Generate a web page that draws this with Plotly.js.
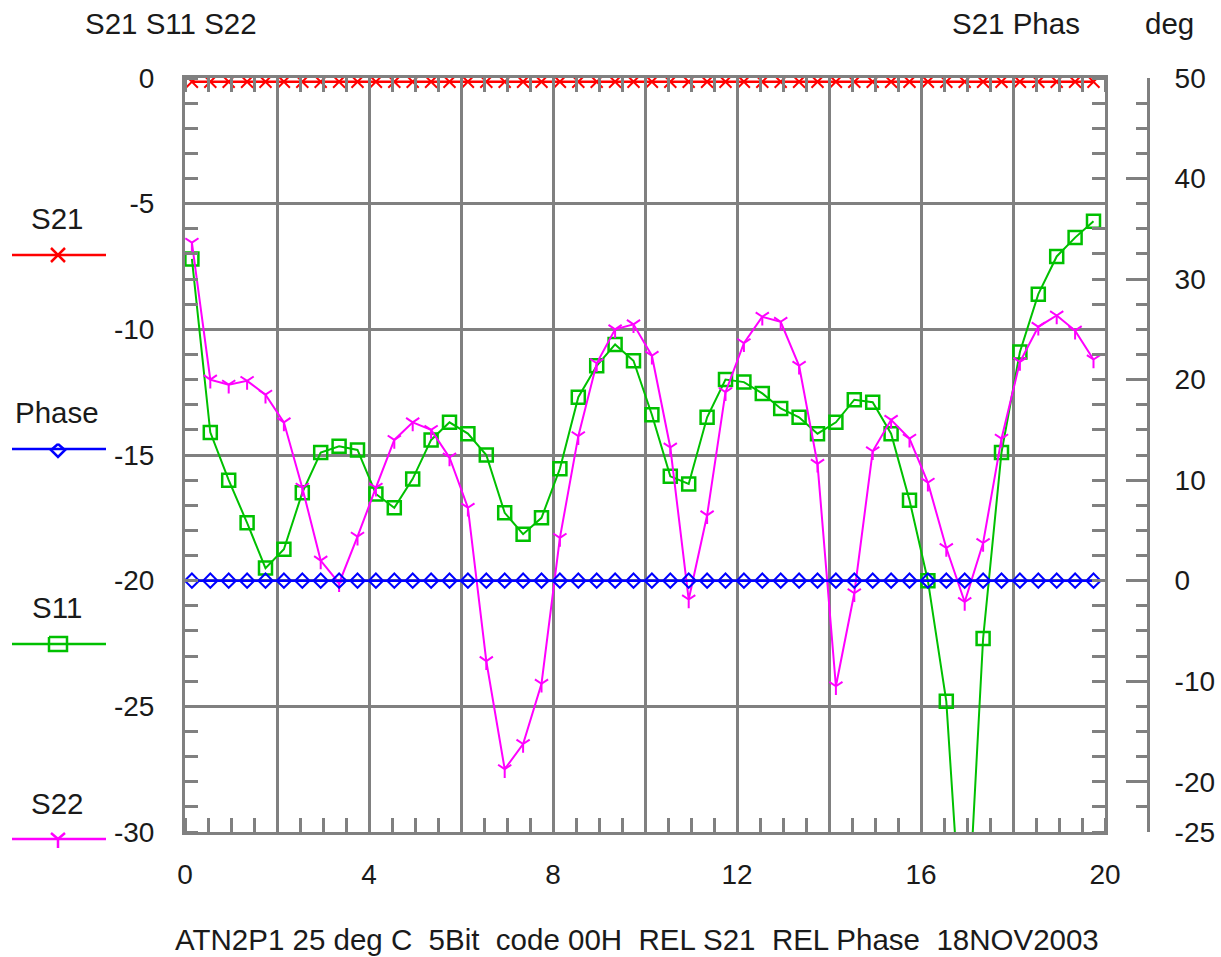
<!DOCTYPE html>
<html><head><meta charset="utf-8">
<script src="https://cdn.plot.ly/plotly-3.0.1.min.js"></script>
<style>html,body{margin:0;padding:0;background:#fff}</style>
</head><body><div id="chart" style="width:1221px;height:957px"></div>
<script>
// ---- data ----
const freqGHz = [0.15,0.55,0.95,1.35,1.75,2.15,2.55,2.95,3.35,3.75,
  4.15,4.55,4.95,5.35,5.75,6.15,6.55,6.95,7.35,7.75,
  8.15,8.55,8.95,9.35,9.75,10.15,10.55,10.95,11.35,11.75,
  12.15,12.55,12.95,13.35,13.75,14.15,14.55,14.95,15.35,15.75,
  16.15,16.55,16.95,17.35,17.75,18.15,18.55,18.95,19.35,19.75];
const s21dB = [-0.15,-0.15,-0.15,-0.15,-0.15,-0.15,-0.15,-0.15,-0.15,-0.15,
  -0.15,-0.15,-0.15,-0.15,-0.15,-0.15,-0.15,-0.15,-0.15,-0.15,
  -0.15,-0.15,-0.15,-0.15,-0.15,-0.15,-0.15,-0.15,-0.15,-0.15,
  -0.15,-0.15,-0.15,-0.15,-0.15,-0.15,-0.15,-0.15,-0.15,-0.15,
  -0.15,-0.15,-0.15,-0.15,-0.15,-0.15,-0.15,-0.15,-0.15,-0.15];
const phaseDeg = [0,0,0,0,0,0,0,0,0,0, 0,0,0,0,0,0,0,0,0,0,
  0,0,0,0,0,0,0,0,0,0, 0,0,0,0,0,0,0,0,0,0, 0,0,0,0,0,0,0,0,0,0];
const s11dB = [-7.2,-14.1,-16.0,-17.7,-19.5,-18.75,-16.5,-14.9,-14.65,-14.8,
  -16.55,-17.1,-15.95,-14.4,-13.7,-14.15,-15.0,-17.3,-18.15,-17.5,
  -15.55,-12.7,-11.45,-10.6,-11.25,-13.4,-15.85,-16.15,-13.5,-12.0,
  -12.1,-12.55,-13.15,-13.5,-14.15,-13.7,-12.8,-12.9,-14.15,-16.8,
  -20.0,-24.8,-36.0,-22.3,-14.9,-10.9,-8.6,-7.1,-6.35,-5.7];
const s22dB = [-6.55,-12.0,-12.2,-12.05,-12.6,-13.7,-16.3,-19.2,-20.1,-18.25,
  -16.3,-14.4,-13.7,-14.0,-15.1,-17.1,-23.2,-27.5,-26.5,-24.1,
  -18.3,-14.25,-11.35,-10.0,-9.8,-11.05,-14.7,-20.75,-17.4,-12.5,
  -10.55,-9.5,-9.7,-11.45,-15.35,-24.2,-20.5,-14.85,-13.6,-14.35,
  -16.1,-18.7,-20.85,-18.5,-14.35,-11.3,-9.9,-9.45,-10.05,-11.2];

const xTickVals = [0,2,4,6,8,10,12,14,16,18,20];
const xTickText = ['0','','4','','8','','12','','16','','20'];
const yTickVals = [-30,-25,-20,-15,-10,-5,0];
const yTickText = ['-30','-25','-20','-15','-10','-5','0'];
const y2TickVals = [-25,-20,-10,0,10,20,30,40,50];
const y2TickText = ['-25','-20','-10','0','10','20','30','40','50'];
const leftTitle = 'S21 S11 S22';
const rightTitle = 'S21 Phas';
const rightUnit = 'deg';
const bottomTitle = 'ATN2P1 25 deg C  5Bit  code 00H  REL S21  REL Phase  18NOV2003';
const seriesNames = ['S21','Phase','S11','S22'];

// ---- styling ----
const GRAY = '#808080';
const TXT = '#1a1a1a';
const FAM = 'Liberation Sans, Arial, sans-serif';
const FONT = {family: FAM, size: 29.5, color: TXT};
const TICKFONT = {family: FAM, size: 28, color: TXT};
const RED = '#ff0000', BLUE = '#0000ff', GREEN = '#00c000', MAG = '#ff00ff';

// page pixel frame of the paper area
const PL = 185, PR = 1148, PT = 78, PB = 832;
const px = x => (x - PL) / (PR - PL);
const py = y => (PB - y) / (PB - PT);

const traces = [
  {name: seriesNames[1], x: freqGHz, y: phaseDeg, yaxis: 'y2', mode: 'lines+markers',
   line: {color: BLUE, width: 2.5},
   marker: {symbol: 'diamond-open', size: 11, color: BLUE, line: {color: BLUE, width: 2}}},
  {name: seriesNames[0], x: freqGHz, y: s21dB, mode: 'lines+markers',
   line: {color: RED, width: 2.5},
   marker: {symbol: 'x-thin-open', size: 12, color: RED, line: {color: RED, width: 2}}},
  {name: seriesNames[2], x: freqGHz, y: s11dB, mode: 'lines+markers',
   line: {color: GREEN, width: 2},
   marker: {symbol: 'square-open', size: 13, color: GREEN, line: {color: GREEN, width: 2.5}}},
  {name: seriesNames[3], x: freqGHz, y: s22dB, mode: 'lines+markers',
   line: {color: MAG, width: 2},
   marker: {symbol: 'y-down-open', size: 11, color: MAG, line: {color: MAG, width: 2}}}
];

// legend drawn as shapes + labels at the left
const legendRows = [
  {name: seriesNames[0], color: RED, labelY: 218, lineY: 255, sym: 'x'},
  {name: seriesNames[1], color: BLUE, labelY: 412, lineY: 449, sym: 'diamond'},
  {name: seriesNames[2], color: GREEN, labelY: 607, lineY: 644, sym: 'square'},
  {name: seriesNames[3], color: MAG, labelY: 803, lineY: 839, sym: 'y'}
];
const shapes = [];
const annotations = [];
const path = pts => pts.map(p => p[0] + px(p[1]) + ',' + py(p[2])).join(' ');
legendRows.forEach(r => {
  shapes.push({type: 'line', xref: 'paper', yref: 'paper', x0: px(12), x1: px(106), y0: py(r.lineY), y1: py(r.lineY),
               line: {color: r.color, width: 2.5}});
  const cx = 58, cy = r.lineY;
  let d;
  if (r.sym === 'x') {
    d = path([['M', cx-7, cy-7], ['L', cx+7, cy+7], ['M', cx+7, cy-7], ['L', cx-7, cy+7]]);
  } else if (r.sym === 'diamond') {
    d = path([['M', cx, cy-5], ['L', cx+7, cy+1], ['L', cx, cy+8], ['L', cx-7, cy+1], ['L', cx, cy-5]]);
  } else if (r.sym === 'square') {
    d = path([['M', cx-9, cy-7], ['L', cx+9, cy-7], ['L', cx+9, cy+7], ['L', cx-9, cy+7], ['L', cx-9, cy-7]]);
  } else {
    d = path([['M', cx-7, cy-6], ['L', cx, cy], ['M', cx+7, cy-6], ['L', cx, cy], ['M', cx, cy], ['L', cx, cy+9]]);
  }
  shapes.push({type: 'path', xref: 'paper', yref: 'paper', path: d, line: {color: r.color, width: 2.5}});
  annotations.push({text: r.name, xref: 'paper', yref: 'paper', x: px(57), y: py(r.labelY),
                    xanchor: 'center', yanchor: 'middle', showarrow: false, font: FONT});
});
annotations.push({text: leftTitle, xref: 'paper', yref: 'paper', x: px(83), y: py(23),
                  xanchor: 'left', yanchor: 'middle', showarrow: false, font: FONT});
annotations.push({text: rightTitle, xref: 'paper', yref: 'paper', x: px(950), y: py(23),
                  xanchor: 'left', yanchor: 'middle', showarrow: false, font: FONT});
annotations.push({text: rightUnit, xref: 'paper', yref: 'paper', x: px(1143), y: py(23),
                  xanchor: 'left', yanchor: 'middle', showarrow: false, font: FONT});
annotations.push({text: bottomTitle, xref: 'paper', yref: 'paper', x: px(637), y: py(939),
                  xanchor: 'center', yanchor: 'middle', showarrow: false, font: FONT});

const layout = {
  width: 1221, height: 957,
  margin: {l: PL, r: 1221 - PR, t: PT, b: 957 - PB, pad: 0},
  paper_bgcolor: '#fff', plot_bgcolor: '#fff',
  showlegend: false,
  font: FONT,
  xaxis: {
    domain: [0, (1105 - PL) / (PR - PL)], range: [0, 20], fixedrange: true,
    tickmode: 'array', tickvals: xTickVals, ticktext: xTickText, ticks: '',
    showgrid: true, gridcolor: GRAY, gridwidth: 3, zeroline: false,
    showline: true, linecolor: GRAY, linewidth: 3, mirror: 'ticks',
    minor: {tickmode: 'linear', tick0: 0, dtick: 0.5, ticks: 'inside', ticklen: 14, tickwidth: 3, tickcolor: GRAY, showgrid: false},
    tickfont: TICKFONT, ticklabelstandoff: 15
  },
  yaxis: {
    range: [-30, 0], fixedrange: true,
    tickmode: 'array', tickvals: yTickVals, ticktext: yTickText, ticks: '',
    showgrid: true, gridcolor: GRAY, gridwidth: 3, zeroline: false,
    showline: true, linecolor: GRAY, linewidth: 3, mirror: 'ticks',
    minor: {tickmode: 'linear', tick0: 0, dtick: 1, ticks: 'inside', ticklen: 13, tickwidth: 3, tickcolor: GRAY, showgrid: false},
    tickfont: TICKFONT, ticklabelstandoff: 22
  },
  yaxis2: {
    overlaying: 'y', side: 'right', anchor: 'free', position: 1,
    range: [-25, 50], fixedrange: true,
    tickmode: 'array', tickvals: y2TickVals, ticktext: y2TickText, ticks: 'inside', ticklen: 21, tickwidth: 3, tickcolor: GRAY,
    showgrid: false, zeroline: false,
    showline: true, linecolor: GRAY, linewidth: 3,
    minor: {tickmode: 'linear', tick0: 0, dtick: 2.5, ticks: 'inside', ticklen: 11, tickwidth: 3, tickcolor: GRAY, showgrid: false},
    tickfont: TICKFONT, ticklabelstandoff: 19
  },
  shapes: shapes,
  annotations: annotations
};

Plotly.newPlot('chart', traces, layout, {displayModeBar: false, staticPlot: true});
</script>
</body></html>
